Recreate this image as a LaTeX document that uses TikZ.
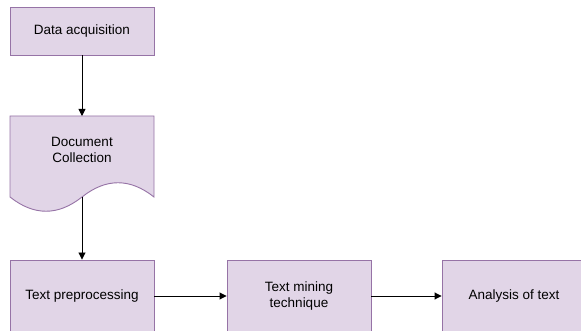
\documentclass[tikz,border=0pt]{standalone}
\usepackage{fontspec}
\setmainfont{Liberation Sans}
\usetikzlibrary{arrows.meta}
\definecolor{boxfill}{HTML}{E1D5E7}
\definecolor{boxline}{HTML}{9673A6}
\begin{document}
\begin{tikzpicture}[x=1pt,y=-1pt,
  proc/.style={draw=boxline,fill=boxfill,line width=0.9pt,minimum width=144pt,minimum height=48pt,inner sep=0pt,align=center,font=\fontsize{13.5}{16}\selectfont},
  conn/.style={line width=0.9pt,-{Triangle[length=7pt,width=7pt]}}]
\useasboundingbox (0,0) rectangle (581,331);
\node[proc] (acq) at (82,31) {Data acquisition};
% document shape
\path[draw=boxline,fill=boxfill,line width=0.9pt]
  (10,116) -- (154,116) -- (154,197)
  .. controls (130,178) and (106,178) .. (82,197)
  .. controls (58,216) and (34,216) .. (10,197) -- cycle;
\coordinate (doctop) at (82,116);
\coordinate (docbot) at (82,197);
\node[font=\fontsize{13.5}{16}\selectfont,align=center] (doc) at (82,150) {Document\\Collection};
\node[proc,minimum height=72pt] (pre) at (82,296) {Text preprocessing};
\node[proc,minimum height=72pt] (min) at (299,296) {Text mining\\technique};
\node[proc,minimum height=72pt] (ana) at (514,296) {Analysis of text};
\draw[conn] (acq.south) -- (doctop);
\draw[conn] (docbot) -- (pre.north);
\draw[conn] (pre.east) -- (min.west);
\draw[conn] (min.east) -- (ana.west);
\end{tikzpicture}
\end{document}
